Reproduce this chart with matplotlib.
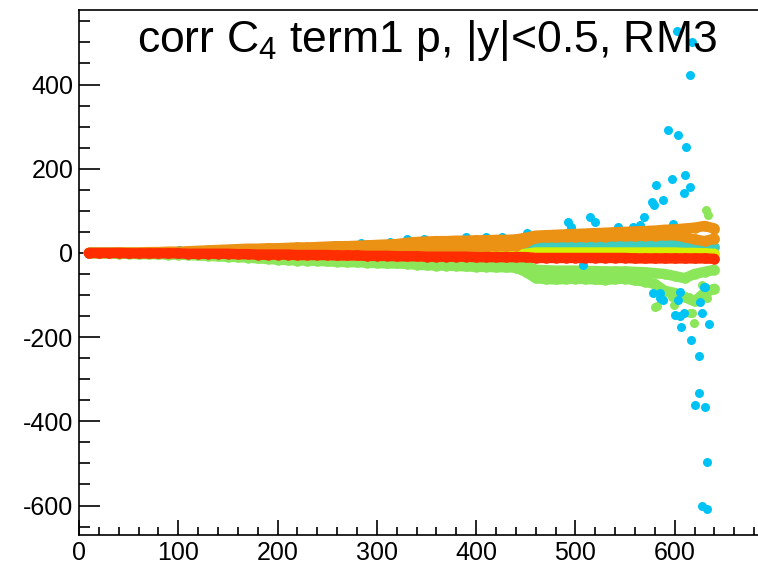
import numpy as np
import matplotlib.pyplot as plt
from matplotlib.ticker import MultipleLocator, FixedLocator

plt.rcParams["font.family"] = "Liberation Sans"
plt.rcParams["mathtext.fontset"] = "custom"
plt.rcParams["mathtext.rm"] = "Liberation Sans"
plt.rcParams["mathtext.it"] = "Liberation Sans:italic"
plt.rcParams["axes.unicode_minus"] = False

# x positions of the band points
x_band = list(range(10, 641, 10))

# band series
red = [0, 0, 0, 0, -1, -1, -1, -1, -1, -1,
       -2, -2, -2, -2, -2, -3, -3, -4, -4, -4,
       -4, -5, -5, -5, -5, -6, -6, -6, -7, -7,
       -7, -8, -8, -8, -9, -9, -9, -9, -9, -10,
       -10, -10, -10, -10, -10, -12, -12, -12, -12, -12,
       -12, -12, -12, -12, -12, -13, -13, -13, -13, -13,
       -13, -13, -13, -14]

orange_hi = [0, 0, 0, 1, 1, 1, 2, 2, 3, 3,
             4, 5, 6, 7, 8, 9, 10, 10, 11, 11,
             12, 13, 13, 14, 15, 16, 16, 17, 18, 19,
             20, 21, 24, 26, 27, 28, 28, 29, 29, 30,
             30, 31, 31, 32, 36, 41, 42, 43, 44, 45,
             46, 47, 48, 49, 50, 51, 52, 53, 55, 56,
             58, 60, 64, 58]
orange_lo = [0, 0, 0, 0, 0, 0, 0, 0, 1, 1,
             1, 1, 2, 2, 2, 3, 3, 3, 4, 4,
             4, 5, 5, 6, 6, 7, 7, 8, 8, 9,
             9, 10, 11, 12, 12, 13, 13, 14, 14, 15,
             15, 16, 16, 17, 25, 36, 37, 37, 38, 38,
             38, 39, 39, 40, 40, 40, 41, 41, 42, 42,
             38, 32, 28, 34]

turq = [0, 0, 0, 0, 0, 0, 0, 0, 0, 0,
        0, 0, 1, 1, 1, 1, 2, 2, 2, 2,
        2, 3, 3, 3, 3, 4, 4, 4, 5, 5,
        5, 5, 6, 6, 6, 7, 7, 7, 8, 8,
        8, 8, 9, 9, 14, 17, 17, 17, 17, 17,
        18, 18, 18, 18, 18, 19, 19, 19, 19, 19,
        19, 17, 15, 13]

yellow = [0, 0, 0, 0, 0, 0, 0, 0, 0, 0,
          -1, -1, -1, -1, -1, -2, -2, -3, -3, -3,
          -3, -4, -4, -4, -4, -5, -5, -5, -6, -6,
          -6, -7, -7, -7, -8, -8, -5, -4, -4, -4,
          -4, -4, -4, -4, -2, 1, 1, 1, 1, 1,
          1, 1, 1, 1, 1, 1, 1, 1, 1, 1,
          0, 0, -1, -2]

green_hi = [0, 0, 0, -1, -1, -1, -1, -2, -2, -2,
            -2, -3, -3, -4, -4, -5, -5, -6, -6, -7,
            -7, -8, -8, -9, -9, -10, -10, -11, -11, -12,
            -12, -13, -14, -15, -16, -17, -18, -19, -20, -20,
            -21, -22, -22, -23, -30, -40, -41, -42, -42, -42,
            -43, -43, -44, -44, -44, -45, -46, -48, -50, -55,
            -60, -50, -45, -40]
green_lo = [0, -1, -1, -2, -2, -3, -3, -3, -4, -4,
            -5, -6, -7, -8, -9, -10, -11, -13, -14, -16,
            -17, -18, -18, -19, -20, -21, -22, -22, -23, -24,
            -25, -25, -26, -28, -29, -30, -30, -31, -32, -33,
            -33, -34, -34, -35, -45, -60, -62, -63, -62, -61,
            -62, -63, -64, -62, -61, -65, -68, -74, -90, -95,
            -105, -115, -95, -85]

# scattered points
green_out_x = [580, 582, 597, 599, 614, 615, 617, 619, 627, 632, 633, 632, 634]
green_out_y = [-129, -127, -104, -124, -104, -143, -143, -167, -76, -104, -108, 102, 90]

cyan_x = [615, 602, 617, 593, 603, 611, 597, 610, 615, 609, 581, 588, 577, 579,
          569, 598, 515, 520, 493, 496, 543, 558, 565, 451, 410, 426, 390, 330,
          347, 370, 313, 284, 258, 101,
          630, 629, 585, 588, 605, 603, 600, 609, 606, 627, 625, 635, 616, 624,
          624, 620, 631, 633, 627, 633, 578, 585, 605, 508]
cyan_y = [423, 526, 502, 292, 280, 252, 175, 185, 157, 142, 161, 126, 122, 114,
          86, 69, 86, 74, 74, 62, 62, 62, 66, 47, 39, 39, 39, 33,
          33, 31, 27, 24, 19, 8,
          -80, -80, -96, -112, -92, -112, -147, -143, -175, -143, -116, -169, -208, -246,
          -333, -361, -365, -496, -601, -608, -96, -107, -151, -28]

c_cyan = "#00C3F5"
c_green = "#8CE65A"
c_turq = "#3CCDBE"
c_yellow = "#D2F000"
c_orange = "#EB9114"
c_red = "#FF2D00"

fig = plt.figure(figsize=(7.58, 5.64), dpi=100)
ax = fig.add_axes([79 / 758, 29 / 564, 695 / 758, 525 / 564])

ms = 6.5
band_kw = dict(lw=7.5, ms=7.6, markeredgewidth=0, solid_capstyle="round")


def band(y, c, z):
    ax.plot(x_band, y, "-o", color=c, zorder=z, **band_kw)


band(green_hi, c_green, 2)
band(green_lo, c_green, 2)
ax.plot(green_out_x, green_out_y, "o", color=c_green, ms=ms, mew=0, zorder=2)
ax.plot(cyan_x, cyan_y, "o", color=c_cyan, ms=ms, mew=0, zorder=2.5)
band(turq, c_turq, 3)
band(yellow, c_yellow, 4)
band(orange_hi, c_orange, 5)
band(orange_lo, c_orange, 5)
band(red, c_red, 6)

ax.set_xlim(0, 700)
ax.set_ylim(-670, 577)

ax.xaxis.set_major_locator(FixedLocator([0, 100, 200, 300, 400, 500, 600]))
ax.xaxis.set_minor_locator(MultipleLocator(20))
ax.yaxis.set_major_locator(MultipleLocator(200))
ax.yaxis.set_minor_locator(MultipleLocator(50))
ax.tick_params(which="both", direction="in", width=1.2, labelsize=18, colors="black")
ax.tick_params(axis="y", which="major", length=15, pad=4)
ax.tick_params(axis="y", which="minor", length=8)
ax.tick_params(axis="x", which="major", length=11, pad=4)
ax.tick_params(axis="x", which="minor", length=6)
ax.tick_params(top=False, right=False)
for s in ax.spines.values():
    s.set_linewidth(1.2)

fig.text(137 / 758, 1 - 52 / 564, r"corr C$_4$ term1 p, |y|<0.5, RM3",
         fontsize=32, ha="left", va="baseline")

fig.savefig("out.png", dpi=100)
